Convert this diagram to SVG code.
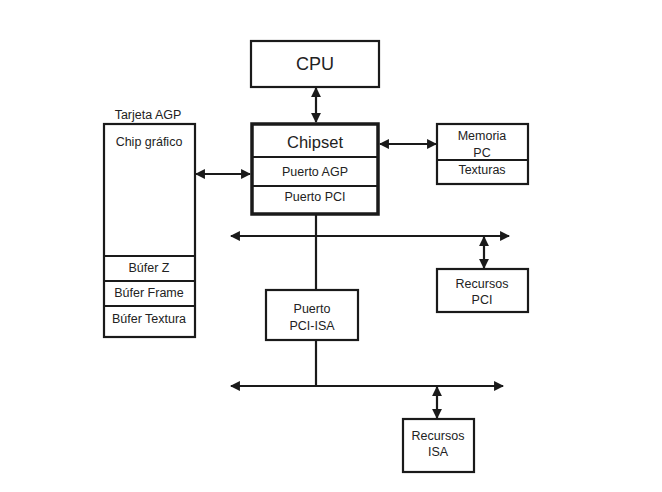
<svg xmlns="http://www.w3.org/2000/svg" width="662" height="492" viewBox="0 0 662 492">
<defs>
<style>
.box{fill:#fff;stroke:#1a1a1a;stroke-width:2.2}
.thick{fill:#fff;stroke:#1a1a1a;stroke-width:3.5}
.div{stroke:#1a1a1a;stroke-width:2.2}
.ln{stroke:#1a1a1a;stroke-width:2.2;fill:none}
.t{font-family:"Liberation Sans",Arial,sans-serif;fill:#222;text-anchor:middle;font-size:12.5px}
.big{font-size:18px}
</style>
<marker id="ah" viewBox="0 0 10 10" refX="9" refY="5" markerWidth="5.5" markerHeight="4.5" markerUnits="strokeWidth" orient="auto-start-reverse">
<path d="M0,0 L10,5 L0,10 z" fill="#1a1a1a"/>
</marker>
</defs>
<rect width="662" height="492" fill="#fff"/>
<g id="connectors">
<line class="ln" x1="316" y1="88" x2="316" y2="122" marker-start="url(#ah)" marker-end="url(#ah)"/>
<line class="ln" x1="380" y1="144" x2="436" y2="144" marker-start="url(#ah)" marker-end="url(#ah)"/>
<line class="ln" x1="196" y1="174" x2="250" y2="174" marker-start="url(#ah)" marker-end="url(#ah)"/>
<line class="ln" x1="316" y1="215" x2="316" y2="290"/>
<line class="ln" x1="231" y1="236" x2="509" y2="236" marker-start="url(#ah)" marker-end="url(#ah)"/>
<line class="ln" x1="484" y1="237" x2="484" y2="268" marker-start="url(#ah)" marker-end="url(#ah)"/>
<line class="ln" x1="316" y1="340" x2="316" y2="386"/>
<line class="ln" x1="231" y1="386" x2="503" y2="386" marker-start="url(#ah)" marker-end="url(#ah)"/>
<line class="ln" x1="437" y1="387" x2="437" y2="418" marker-start="url(#ah)" marker-end="url(#ah)"/>
</g>
<g id="cpu">
<rect class="box" x="251" y="41" width="128" height="46"/>
<text class="t big" x="315" y="70">CPU</text>
</g>
<g id="chipset">
<rect class="thick" x="252" y="124" width="126" height="90"/>
<line class="div" x1="252" y1="157" x2="378" y2="157"/>
<line class="div" x1="252" y1="186" x2="378" y2="186"/>
<text class="t" style="font-size:16.5px" x="315" y="148">Chipset</text>
<text class="t" x="315" y="176">Puerto AGP</text>
<text class="t" x="315" y="201">Puerto PCI</text>
</g>
<g id="memoria">
<rect class="box" x="437" y="124" width="91" height="60"/>
<line class="div" x1="437" y1="160" x2="528" y2="160"/>
<text class="t" x="482" y="140">Memoria</text>
<text class="t" x="482" y="157">PC</text>
<text class="t" x="482" y="174">Texturas</text>
</g>
<g id="tarjeta-agp">
<text class="t" x="148" y="119">Tarjeta AGP</text>
<rect class="box" x="104" y="124" width="91" height="213"/>
<line class="div" x1="104" y1="256" x2="195" y2="256"/>
<line class="div" x1="104" y1="281" x2="195" y2="281"/>
<line class="div" x1="104" y1="306" x2="195" y2="306"/>
<text class="t" x="149" y="146">Chip gráfico</text>
<text class="t" x="149" y="272">Búfer Z</text>
<text class="t" x="149" y="297">Búfer Frame</text>
<text class="t" x="149" y="323">Búfer Textura</text>
</g>
<g id="puerto-pci-isa">
<rect class="box" x="266" y="290" width="92" height="50"/>
<text class="t" x="312" y="313">Puerto</text>
<text class="t" x="312" y="330">PCI-ISA</text>
</g>
<g id="recursos-pci">
<rect class="box" x="437" y="269" width="91" height="43"/>
<text class="t" x="482" y="288">Recursos</text>
<text class="t" x="482" y="304">PCI</text>
</g>
<g id="recursos-isa">
<rect class="box" x="403" y="419" width="71" height="53"/>
<text class="t" x="438" y="440">Recursos</text>
<text class="t" x="438" y="456">ISA</text>
</g>
</svg>
